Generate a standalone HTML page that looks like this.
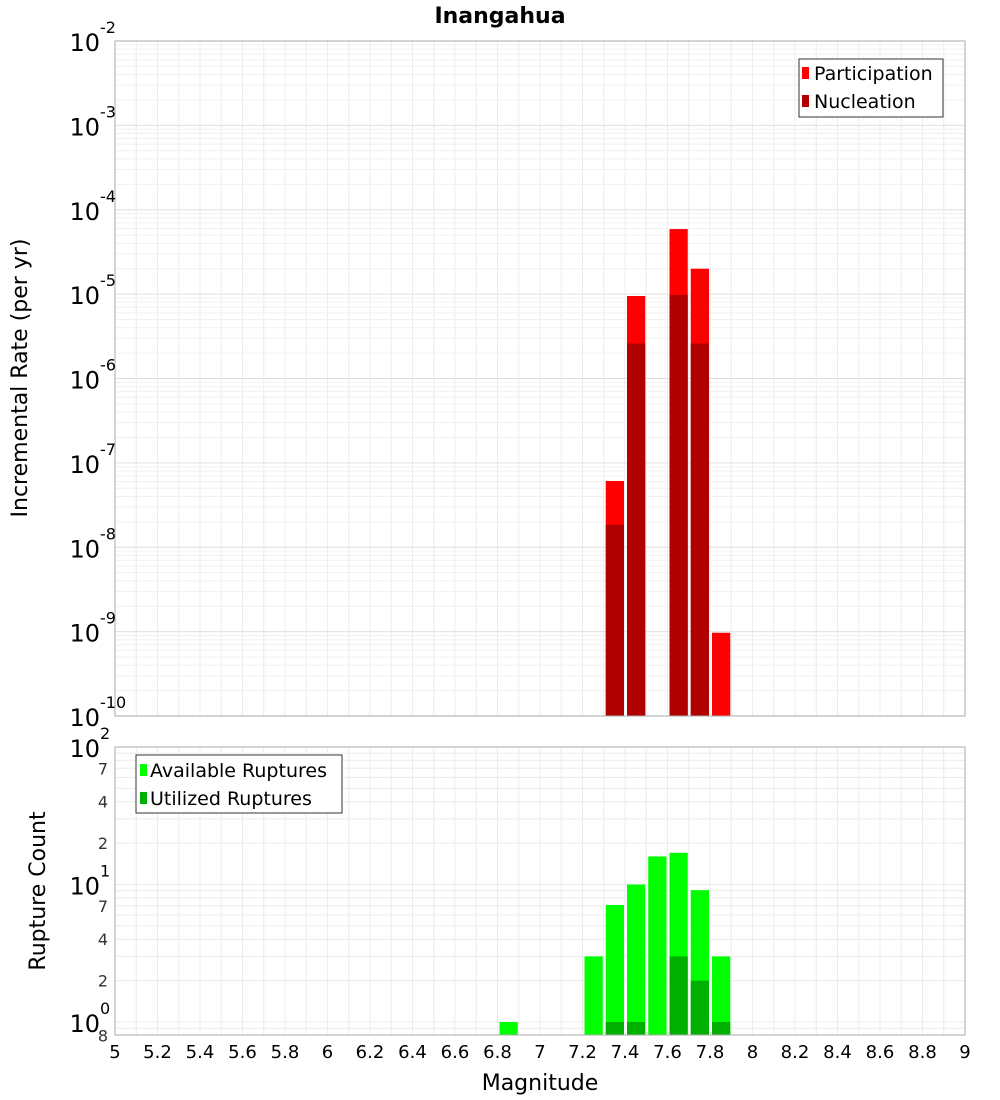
<!DOCTYPE html>
<html><head><meta charset="utf-8"><style>
body{margin:0;background:#fff;}
svg{display:block;font-family:"DejaVu Sans","Liberation Sans",sans-serif;}
</style></head><body>
<svg id="c" width="1000" height="1100" xmlns="http://www.w3.org/2000/svg">
<text x="500" y="23" text-anchor="middle" font-weight="bold" font-size="22">Inangahua</text>
<g id="topplot"></g>
<g id="botplot"></g>
<text transform="translate(27,378) rotate(-90)" text-anchor="middle" font-size="22">Incremental Rate (per yr)</text>
<text transform="translate(45,891) rotate(-90)" text-anchor="middle" font-size="22">Rupture Count</text>
<text x="540" y="1090" text-anchor="middle" font-size="22">Magnitude</text>
<g id="legends"></g>
</svg>
<script>
const mags=[6.8,7.2,7.3,7.4,7.5,7.6,7.7,7.8];
const participation=[0,0,6.1e-8,9.5e-6,0,5.9e-5,2.0e-5,9.7e-10];
const nucleation=[0,0,1.85e-8,2.6e-6,0,9.8e-6,2.6e-6,0];
const available=[1,3,7.1,10,16,17,9.1,3];
const utilized=[0,0,1,1,0,3,2,1];
const xTicks=[5,5.2,5.4,5.6,5.8,6,6.2,6.4,6.6,6.8,7,7.2,7.4,7.6,7.8,8,8.2,8.4,8.6,8.8,9];
const NS="http://www.w3.org/2000/svg";
const X0=115,X1=965;
const xs=m=>X0+(m-5)/4*(X1-X0);
const T0=41,T1=716; const yT=v=>T0+(-2-Math.log10(v))/8*(T1-T0);
const B0=747,B1=1035; const dB=137.5; const yB=v=>1022-Math.log10(v)*dB;
function el(p,tag,a){const e=document.createElementNS(NS,tag);for(const k in a)e.setAttribute(k,a[k]);p.appendChild(e);return e;}
const gTop=document.getElementById('topplot'),gBot=document.getElementById('botplot');
function vgrid(g,y0,y1){for(let i=1;i<40;i++){const m=5+i*0.1;const e=el(g,'line',{x1:xs(m),x2:xs(m),y1:y0,y2:y1,stroke:'#ececec'});}}
vgrid(gTop,T0,T1);vgrid(gBot,B0,B1);
for(let d=-10;d<-2;d++)for(let k=1;k<10;k++){const v=k*Math.pow(10,d);const yy=yT(v);if(yy<=T0||yy>=T1)continue;
 const e=el(gTop,'line',{x1:X0,x2:X1,y1:yy,y2:yy,stroke:k==1?'#e0e0e0':'#f0f0f0'});}
for(let d=-1;d<2;d++)for(let k=1;k<10;k++){const v=k*Math.pow(10,d);const yy=yB(v);if(yy<=B0||yy>=B1)continue;
 const e=el(gBot,'line',{x1:X0,x2:X1,y1:yy,y2:yy,stroke:'#ececec'});}
function bar(g,m,v,fill,yf,base,name){if(!v)return;const yy=yf(v);const r=el(g,'rect',{x:xs(m)+2,y:yy,width:xs(m+0.1)-xs(m)-3,height:base-yy,fill:fill});}
mags.forEach((m,i)=>{bar(gTop,m,participation[i],'#ff0000',yT,T1,'participation-bar');bar(gTop,m,nucleation[i],'#b00000',yT,T1,'nucleation-bar');
 bar(gBot,m,available[i],'#00ff00',yB,B1,'available-bar');bar(gBot,m,utilized[i],'#00b000',yB,B1,'utilized-bar');});
el(gTop,'rect',{x:X0,y:T0,width:X1-X0,height:T1-T0,fill:'none',stroke:'#aaa'});
el(gBot,'rect',{x:X0,y:B0,width:X1-X0,height:B1-B0,fill:'none',stroke:'#aaa'});
for(let d=-2;d>=-10;d--){const yy=yT(Math.pow(10,d));const t=el(gTop,'text',{x:100,y:yy+10,'text-anchor':'end','font-size':24});t.textContent='10';
 
 const s=el(gTop,'text',{x:100,y:yy-8,'font-size':16});s.textContent=String(d);}
[[100,'10','2'],[10,'10','1'],[1,'10','0']].forEach(a=>{const yy=yB(a[0]);const t=el(gBot,'text',{x:100,y:yy+10,'text-anchor':'end','font-size':24});t.textContent=a[1];
 
 const s=el(gBot,'text',{x:100,y:yy-8,'font-size':16});s.textContent=a[2];});
[70,40,20,7,4,2,0.8].forEach(v=>{const t=el(gBot,'text',{x:108,y:yB(v)+6,'text-anchor':'end','font-size':16,fill:'#333'});t.textContent=String(v<1?8:(v>=10?v/10:v));
 });
xTicks.forEach(m=>{const t=el(gBot,'text',{x:xs(m),y:1058,'text-anchor':'middle','font-size':18});t.textContent=String(m);
 });
const lg=document.getElementById('legends');
lg.innerHTML='<g>'+
'<rect x="799" y="59" width="144" height="58" fill="#fff" stroke="#333"/>'+
'<rect x="802" y="67" width="7" height="12" fill="#ff0000"/>'+
'<text x="814" y="80" font-size="19">Participation</text>'+
'<rect x="802" y="95" width="7" height="12" fill="#b00000"/>'+
'<text x="814" y="108" font-size="19">Nucleation</text></g>'+
'<g>'+
'<rect x="136" y="755" width="206" height="58" fill="#fff" stroke="#333"/>'+
'<rect x="140" y="764" width="7" height="12" fill="#00ff00"/>'+
'<text x="150" y="777" font-size="19">Available Ruptures</text>'+
'<rect x="140" y="792" width="7" height="12" fill="#00b000"/>'+
'<text x="150" y="805" font-size="19">Utilized Ruptures</text></g>';
</script>
</body></html>
